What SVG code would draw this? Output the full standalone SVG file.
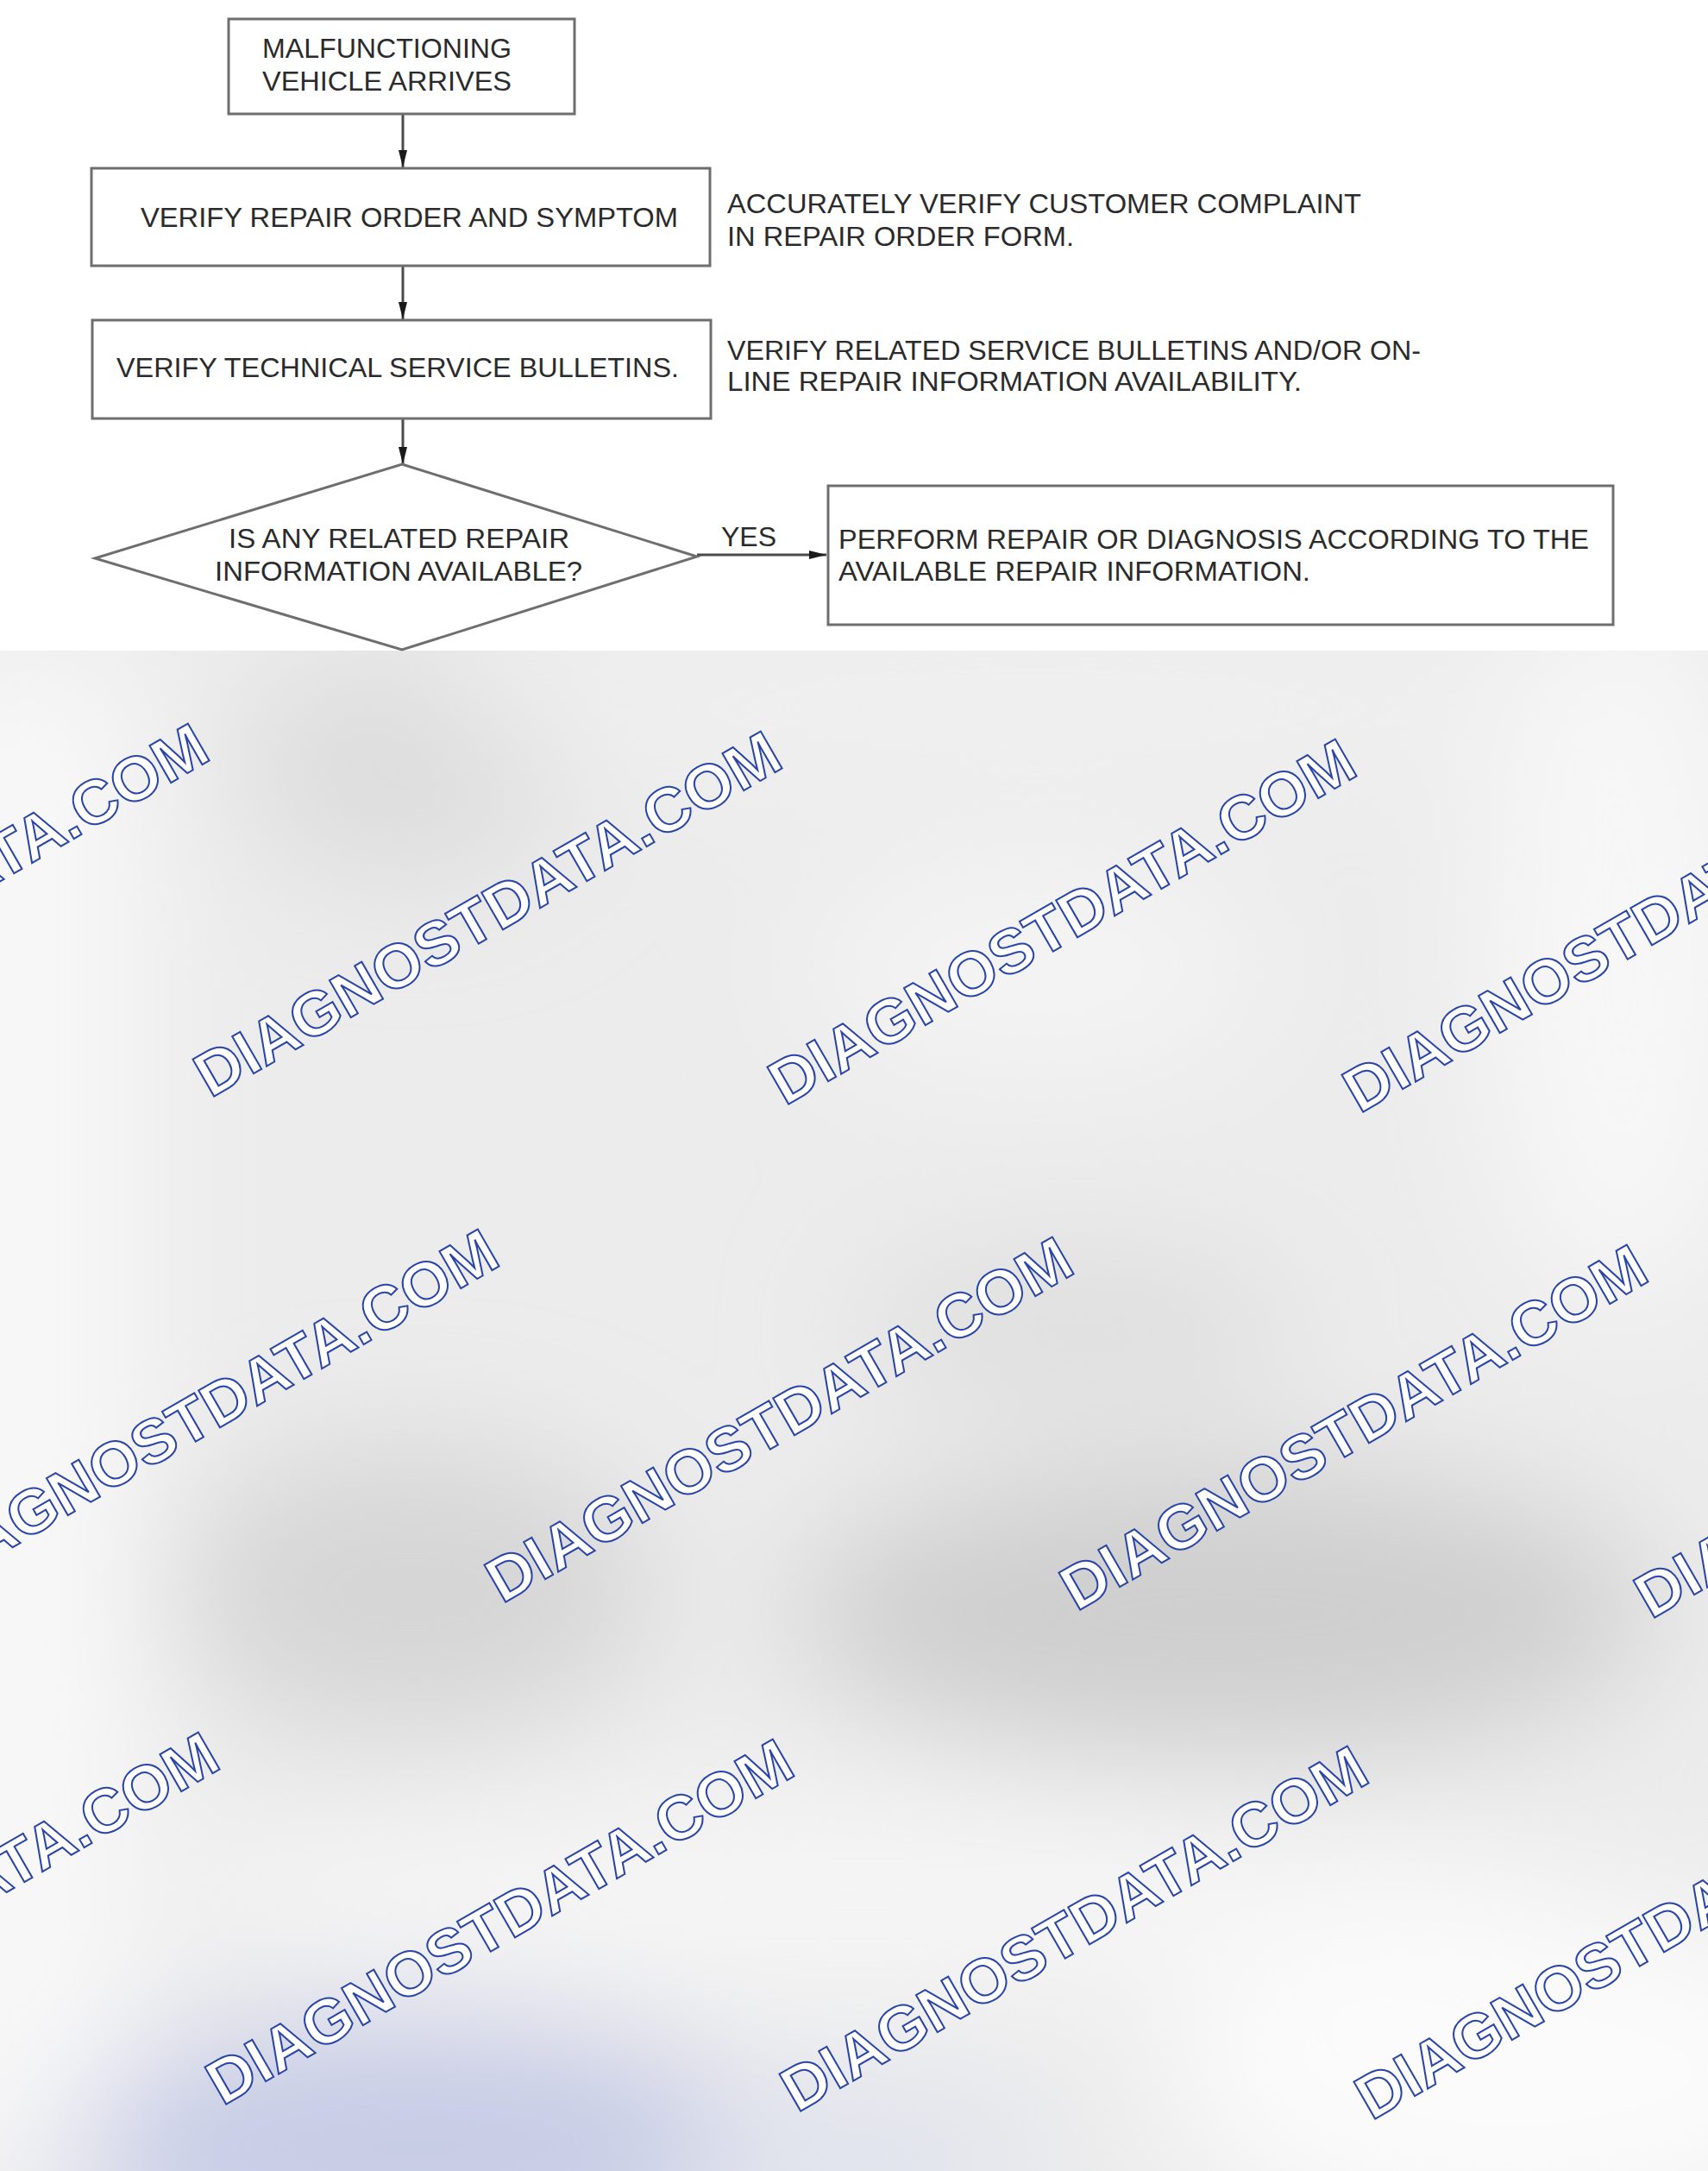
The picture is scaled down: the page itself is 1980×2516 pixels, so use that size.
<svg xmlns="http://www.w3.org/2000/svg" width="1980" height="2516" viewBox="0 0 1980 2516">
<style>
.box{fill:#ffffff;stroke:#6e6e6e;stroke-width:3}
.lbl{font-family:"Liberation Sans",Arial,sans-serif;font-size:32px;fill:#2b2b2b}
.conn{stroke:#4a4a4a;stroke-width:3;fill:none}
.wm{font-family:"Liberation Sans",Arial,sans-serif;font-weight:bold;font-size:72px;fill:#ffffff;stroke:#2a45a5;stroke-width:2}
</style>
<defs>
<marker id="ah" viewBox="0 0 20 10" refX="20" refY="5" markerWidth="20" markerHeight="10" markerUnits="userSpaceOnUse" orient="auto">
<path d="M0,0 L20,5 L0,10 Z" fill="#1a1a1a"/>
</marker>
<filter id="blur" x="-20%" y="-20%" width="140%" height="140%"><feGaussianBlur stdDeviation="75"/></filter>
<clipPath id="bgclip"><rect x="0" y="754" width="1980" height="1762"/></clipPath>
</defs>
<rect x="0" y="0" width="1980" height="2516" fill="#ffffff"/>
<g id="background" clip-path="url(#bgclip)">
<rect x="0" y="754" width="1980" height="1762" fill="#ececec"/>
<g filter="url(#blur)">
<rect x="-100" y="760" width="260" height="1760" fill="#f8f8f8"/>
<ellipse cx="470" cy="890" rx="190" ry="130" fill="#dcdcdc"/>
<ellipse cx="1200" cy="820" rx="700" ry="80" fill="#f0f0f0"/>
<ellipse cx="1880" cy="1100" rx="160" ry="420" fill="#f7f7f7"/>
<ellipse cx="1200" cy="1120" rx="260" ry="120" fill="#f4f4f4"/>
<ellipse cx="1250" cy="1540" rx="260" ry="90" fill="#dedede"/>
<ellipse cx="480" cy="1845" rx="280" ry="170" fill="#d6d6d6"/>
<ellipse cx="1420" cy="1870" rx="500" ry="170" fill="#cfcfcf"/>
<ellipse cx="1000" cy="2200" rx="800" ry="120" fill="#f5f5f5"/>
<ellipse cx="1750" cy="2400" rx="400" ry="200" fill="#fbfbfb"/>
<ellipse cx="480" cy="2490" rx="400" ry="150" fill="#c7cce6"/>
<ellipse cx="1000" cy="2500" rx="200" ry="80" fill="#dfe2ee"/>
</g>
</g>
<g id="watermarks">
<text class="wm" transform="translate(-420,1264) rotate(-30)" textLength="770" lengthAdjust="spacingAndGlyphs">DIAGNOSTDATA.COM</text>
<text class="wm" transform="translate(244,1273) rotate(-30)" textLength="770" lengthAdjust="spacingAndGlyphs">DIAGNOSTDATA.COM</text>
<text class="wm" transform="translate(910,1282) rotate(-30)" textLength="770" lengthAdjust="spacingAndGlyphs">DIAGNOSTDATA.COM</text>
<text class="wm" transform="translate(1576,1291) rotate(-30)" textLength="770" lengthAdjust="spacingAndGlyphs">DIAGNOSTDATA.COM</text>
<text class="wm" transform="translate(-84,1850) rotate(-30)" textLength="770" lengthAdjust="spacingAndGlyphs">DIAGNOSTDATA.COM</text>
<text class="wm" transform="translate(582,1859) rotate(-30)" textLength="770" lengthAdjust="spacingAndGlyphs">DIAGNOSTDATA.COM</text>
<text class="wm" transform="translate(1248,1868) rotate(-30)" textLength="770" lengthAdjust="spacingAndGlyphs">DIAGNOSTDATA.COM</text>
<text class="wm" transform="translate(1914,1877) rotate(-30)" textLength="770" lengthAdjust="spacingAndGlyphs">DIAGNOSTDATA.COM</text>
<text class="wm" transform="translate(-408,2433) rotate(-30)" textLength="770" lengthAdjust="spacingAndGlyphs">DIAGNOSTDATA.COM</text>
<text class="wm" transform="translate(258,2441) rotate(-30)" textLength="770" lengthAdjust="spacingAndGlyphs">DIAGNOSTDATA.COM</text>
<text class="wm" transform="translate(924,2449) rotate(-30)" textLength="770" lengthAdjust="spacingAndGlyphs">DIAGNOSTDATA.COM</text>
<text class="wm" transform="translate(1590,2458) rotate(-30)" textLength="770" lengthAdjust="spacingAndGlyphs">DIAGNOSTDATA.COM</text>
</g>
<g id="connectors">
<line class="conn" x1="467" y1="132" x2="467" y2="194" marker-end="url(#ah)"/>
<line class="conn" x1="467" y1="308" x2="467" y2="370" marker-end="url(#ah)"/>
<line class="conn" x1="467" y1="485" x2="467" y2="538" marker-end="url(#ah)"/>
<line class="conn" x1="808" y1="643" x2="958" y2="643" marker-end="url(#ah)"/>
<text class="lbl" x="836" y="633" textLength="64" lengthAdjust="spacingAndGlyphs">YES</text>
</g>
<g id="n1">
<rect class="box" x="265" y="22" width="401" height="110"/>
<text class="lbl" x="304" y="67" font-size="33" textLength="289" lengthAdjust="spacingAndGlyphs">MALFUNCTIONING</text>
<text class="lbl" x="304" y="105" font-size="33" textLength="289" lengthAdjust="spacingAndGlyphs">VEHICLE ARRIVES</text>
</g>
<g id="n2">
<rect class="box" x="106" y="195" width="717" height="113"/>
<text class="lbl" x="163" y="263" textLength="623" lengthAdjust="spacingAndGlyphs">VERIFY REPAIR ORDER AND SYMPTOM</text>
</g>
<g id="n2note">
<text class="lbl" x="843" y="247" textLength="735" lengthAdjust="spacingAndGlyphs">ACCURATELY VERIFY CUSTOMER COMPLAINT</text>
<text class="lbl" x="843" y="285" textLength="402" lengthAdjust="spacingAndGlyphs">IN REPAIR ORDER FORM.</text>
</g>
<g id="n3">
<rect class="box" x="107" y="371" width="717" height="114"/>
<text class="lbl" x="135" y="437" textLength="652" lengthAdjust="spacingAndGlyphs">VERIFY TECHNICAL SERVICE BULLETINS.</text>
</g>
<g id="n3note">
<text class="lbl" x="843" y="417" textLength="804" lengthAdjust="spacingAndGlyphs">VERIFY RELATED SERVICE BULLETINS AND/OR ON-</text>
<text class="lbl" x="843" y="453" textLength="666" lengthAdjust="spacingAndGlyphs">LINE REPAIR INFORMATION AVAILABILITY.</text>
</g>
<g id="n4">
<polygon class="box" points="466,538 808,645 466,753 110,647"/>
<text class="lbl" x="265" y="635" textLength="395" lengthAdjust="spacingAndGlyphs">IS ANY RELATED REPAIR</text>
<text class="lbl" x="249" y="673" textLength="426" lengthAdjust="spacingAndGlyphs">INFORMATION AVAILABLE?</text>
</g>
<g id="n5">
<rect class="box" x="960" y="563" width="910" height="161"/>
<text class="lbl" x="972" y="636" textLength="870" lengthAdjust="spacingAndGlyphs">PERFORM REPAIR OR DIAGNOSIS ACCORDING TO THE</text>
<text class="lbl" x="972" y="673" textLength="547" lengthAdjust="spacingAndGlyphs">AVAILABLE REPAIR INFORMATION.</text>
</g>
</svg>
